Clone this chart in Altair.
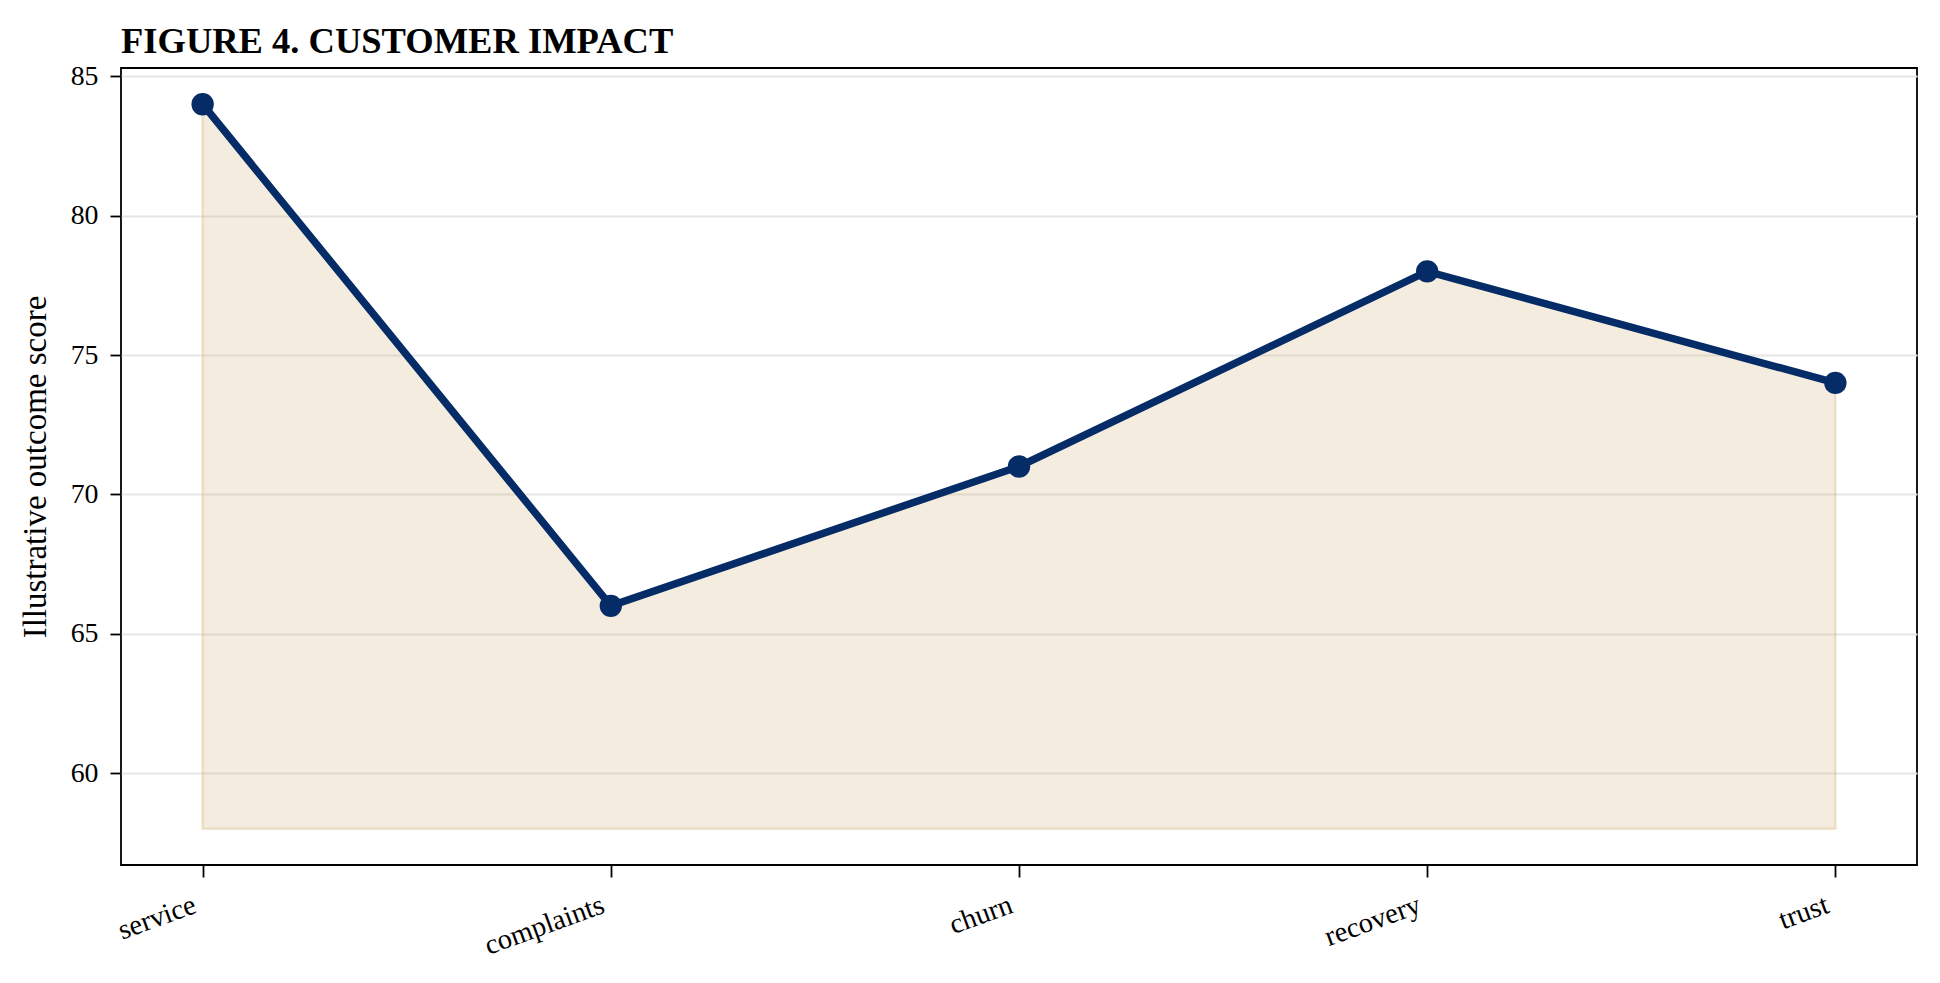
import altair as alt
import pandas as pd

categories = ["service", "complaints", "churn", "recovery", "trust"]
scores = [84, 66, 71, 78, 74]
BASELINE = 58
y_ticks = [60, 65, 70, 75, 80, 85]

NAVY = "#052c66"
SAND = "#d4b47a"
FONT = "Liberation Serif"

df = pd.DataFrame({"category": categories, "score": scores})
df["base"] = BASELINE

x_enc = alt.X(
    "category:N",
    sort=categories,
    title=None,
    scale=alt.Scale(type="point", padding=0.2),
    axis=alt.Axis(
        labelAngle=340,
        labelAlign="right",
        labelBaseline="top",
        labelPadding=13,
        labelOffset=-13,
        labelFontSize=28.5,
        tickSize=12,
        grid=False,
    ),
)
y_scale = alt.Scale(domain=[56.7, 85.3], nice=False, zero=False)

# shaded region under the line
area = alt.Chart(df).mark_area(
    color=SAND, fillOpacity=0.25, stroke=SAND, strokeOpacity=0.35, strokeWidth=2.5
).encode(
    x=x_enc,
    y=alt.Y(
        "score:Q",
        scale=y_scale,
        title="Illustrative outcome score",
        axis=alt.Axis(values=y_ticks, tickSize=11, labelPadding=12, titlePadding=18),
    ),
    y2="base:Q",
)

line = alt.Chart(df).mark_line(color=NAVY, strokeWidth=7.5).encode(
    x=x_enc, y=alt.Y("score:Q", scale=y_scale)
)

points = alt.Chart(df).mark_circle(color=NAVY, size=500, opacity=1).encode(
    x=x_enc, y=alt.Y("score:Q", scale=y_scale)
)

chart = (
    alt.layer(area, line, points)
    .properties(
        width=1796,
        height=797,
        title=alt.TitleParams(
            "FIGURE 4. CUSTOMER IMPACT",
            anchor="start",
            frame="group",
            font=FONT,
            fontSize=36.5,
            fontWeight="bold",
            color="black",
            offset=2,
        ),
        autosize=alt.AutoSizeParams(type="none"),
        padding={"left": 113, "top": 60, "right": 15, "bottom": 110},
    )
    .configure_view(stroke="black", strokeWidth=1.8)
    .configure_axis(
        domain=False,
        labelFont=FONT,
        labelFontSize=27.8,
        labelColor="black",
        titleFont=FONT,
        titleFontSize=33,
        titleFontWeight="normal",
        titleColor="black",
        tickColor="black",
        tickWidth=1.8,
        gridColor="#e6e6e6",
        gridWidth=1.8,
    )
)

chart.save("out.html", embed_options={"renderer": "svg", "actions": False})
